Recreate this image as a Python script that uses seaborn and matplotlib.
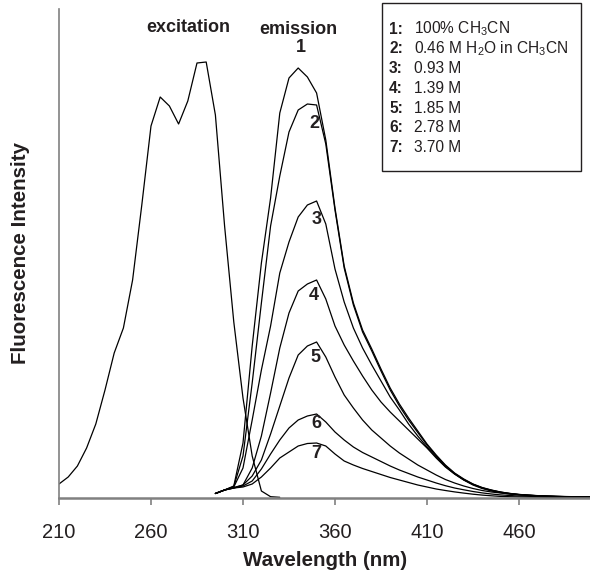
import matplotlib
matplotlib.use("Agg")
import matplotlib.pyplot as plt
import seaborn as sns
import pandas as pd
from matplotlib.patches import Rectangle

# ---------------- data ----------------
ex_wl = list(range(210, 331, 5))
ex_int = [14, 21, 32, 50, 74, 108, 145, 170, 218, 293, 372, 401, 392, 374, 397,
          435, 436, 383, 272, 176, 100, 42, 7, 1.3, 0.7]

em_wl = list(range(295, 501, 5))
em_1 = [4.5, 8, 12, 55, 152, 235, 300, 385, 420, 430, 421, 405, 358, 290, 232, 195,
        168, 149, 129, 110, 94, 80, 67, 54, 43, 33, 25, 19, 14, 10.5, 8, 6, 4.6,
        3.6, 2.9, 2.4, 2.0, 1.7, 1.5, 1.3, 1.1, 1.0]
em_2 = [4.5, 8, 11.5, 42, 115, 195, 272, 322, 366, 388, 394, 393, 354, 288, 230, 193,
        166, 147, 127, 108, 92, 78, 65.5, 53, 42, 32.5, 24.5, 18.5, 13.8, 10.2, 7.8,
        5.9, 4.5, 3.5, 2.8, 2.3, 1.9, 1.6, 1.4, 1.2, 1.05, 0.95]
em_3 = [4.5, 8, 11, 30, 78, 128, 172, 225, 256, 281, 293, 297, 274, 229, 196, 170,
        150, 133, 117, 101, 88, 74, 62, 51, 41, 31.5, 24, 18, 13.5, 10, 7.6, 5.7,
        4.4, 3.4, 2.7, 2.2, 1.8, 1.5, 1.3, 1.15, 1.0, 0.9]
em_4 = [4.5, 8, 10.5, 13, 30, 62, 105, 150, 185, 207, 214, 218, 199, 172, 153, 137,
        122, 108, 96, 86, 77, 68, 59, 50, 40, 31, 24, 18, 13, 9.5, 7, 5.3, 4, 3.2,
        2.6, 2.1, 1.7, 1.4, 1.2, 1.05, 0.95, 0.85]
em_5 = [4.5, 8, 10, 13, 22, 38, 64, 92, 120, 143, 152, 156, 141, 121, 103, 90, 78,
        68, 60, 52, 45, 39, 33, 28, 23, 18.5, 15, 12, 9.5, 7.5, 6, 5, 4, 3.3, 2.7,
        2.3, 1.9, 1.6, 1.35, 1.15, 1.0, 0.9]
em_6 = [4.5, 8, 10, 12, 17, 29, 44, 58, 70, 78, 82, 84, 76, 66, 58, 51, 45.5, 41,
        36.5, 32, 28, 24.5, 21, 18, 15, 12.3, 10, 8.2, 6.5, 5.1, 4, 3.1, 2.5, 2,
        1.7, 1.45, 1.25, 1.1, 0.95, 0.85, 0.75, 0.7]
em_7 = [4.5, 8, 10, 11, 14, 21, 30, 40, 46, 52, 54.5, 55, 52, 44, 37, 33, 29.5,
        26.5, 23.5, 20.5, 18, 15.5, 13, 11, 9, 7.5, 6.1, 4.9, 3.8, 2.9, 2.2, 1.6,
        1.3, 1.05, 0.9, 0.8, 0.7, 0.6, 0.55, 0.5, 0.45, 0.4]

curve_labels = ["1", "2", "3", "4", "5", "6", "7"]
legend_nums = ["1:", "2:", "3:", "4:", "5:", "6:", "7:"]
legend_desc = ["100% CH$_\\mathregular{3}$CN",
               "0.46 M H$_\\mathregular{2}$O in CH$_\\mathregular{3}$CN",
               "0.93 M", "1.39 M", "1.85 M", "2.78 M", "3.70 M"]
x_ticks = [210, 260, 310, 360, 410, 460]

# ---------------- style ----------------
sns.set_style("white")
plt.rcParams['font.family'] = ['Liberation Sans', 'DejaVu Sans']
plt.rcParams['mathtext.fontset'] = 'custom'
plt.rcParams['mathtext.rm'] = 'Liberation Sans'
plt.rcParams['mathtext.bf'] = 'Liberation Sans:bold'
TXT = '#231f20'
W, H = 590, 575

fig = plt.figure(figsize=(W / 100, H / 100), dpi=100)
ax = fig.add_axes([59 / W, 1 - 498 / H, 531 / W, 489 / H])

em_df = pd.DataFrame({"wl": em_wl, "1": em_1, "2": em_2, "3": em_3, "4": em_4,
                      "5": em_5, "6": em_6, "7": em_7})
em_long = em_df.melt(id_vars="wl", var_name="curve", value_name="intensity")

sns.lineplot(x=ex_wl, y=ex_int, color='black', lw=0.9, ax=ax)
sns.lineplot(data=em_long, x="wl", y="intensity", units="curve", estimator=None,
             color='black', lw=0.9, ax=ax)

ax.set_xlim(210, 498.6)
ax.set_ylim(0, 489)
ax.set_xticks(x_ticks)
ax.set_xticklabels([str(t) for t in x_ticks])
ax.set_yticks([])
ax.tick_params(axis='x', direction='out', length=5, width=1.2, color='#808080',
               labelsize=14.5, labelcolor=TXT, pad=13, bottom=True)
for s in ['top', 'right']:
    ax.spines[s].set_visible(False)
ax.spines['left'].set_color('#808080')
ax.spines['left'].set_linewidth(1.2)
ax.spines['bottom'].set_color('#808080')
ax.spines['bottom'].set_linewidth(1.8)

ax.set_xlabel("Wavelength (nm)", fontsize=14.8, fontweight='bold', color=TXT)
ax.xaxis.set_label_coords(325.5 / W, 1 - 560 / H, transform=fig.transFigure)
ax.xaxis.label.set_va('center')
ax.set_ylabel("Fluorescence Intensity", fontsize=14.8, fontweight='bold', color=TXT)
ax.yaxis.set_label_coords(20.5 / W, 1 - 253.5 / H, transform=fig.transFigure)
ax.yaxis.label.set_va('center')

# annotations
ax.text(280.1, 470, "excitation", fontsize=13, fontweight='bold', color=TXT,
        ha='center', va='center')
ax.text(339.9, 468, "emission", fontsize=13, fontweight='bold', color=TXT,
        ha='center', va='center')
lab_pos = [(341.7, 451), (349.0, 375), (350.0, 278), (348.6, 202),
           (349.6, 141), (350.0, 74), (350.0, 44)]
for lab, (lx, ly) in zip(curve_labels, lab_pos):
    ax.text(lx, ly, lab, fontsize=13, fontweight='bold', color=TXT,
            ha='center', va='center')

# legend box
fig.add_artist(Rectangle((382 / W, 1 - 171 / H), 199 / W, 168 / H,
                         transform=fig.transFigure, fill=True, facecolor='white',
                         edgecolor='#231f20', lw=1.0))
for i, (n, d) in enumerate(zip(legend_nums, legend_desc)):
    yb = 1 - (33.5 + 19.8 * i) / H
    fig.text(389 / W, yb, n, fontsize=11.2, fontweight='bold', color=TXT,
             va='baseline', ha='left')
    fig.text(414 / W, yb, d, fontsize=11.2, color=TXT, va='baseline', ha='left')

fig.savefig("out.png", dpi=100)
